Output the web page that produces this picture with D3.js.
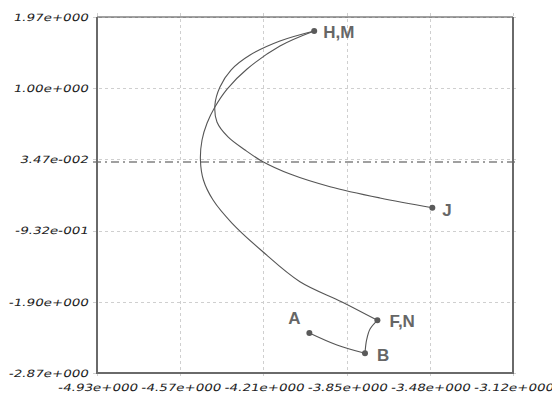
<!DOCTYPE html>
<html><head><meta charset="utf-8">
<script src="https://cdn.jsdelivr.net/npm/d3@7"></script>
<style>
html,body{margin:0;padding:0;background:#fff;}
svg{display:block;}
</style></head>
<body>
<svg id="chart" width="552" height="397"></svg>
<script>
// ---- data ----
const xDomain = [-4.932, -3.122];
const yDomain = [-2.8654, 1.968];
const xTickValues = [-4.932, -4.570, -4.208, -3.846, -3.484, -3.122];
const xTickLabels = ["-4.93e+000", "-4.57e+000", "-4.21e+000", "-3.85e+000", "-3.48e+000", "-3.12e+000"];
const yTickValues = [1.968, 1.0013, 0.0347, -0.932, -1.8987, -2.8654];
const yTickLabels = ["1.97e+000", "1.00e+000", "3.47e-002", "-9.32e-001", "-1.90e+000", "-2.87e+000"];

// path segments (x, y)
const segAB = [[-4.008, -2.322], [-3.888, -2.485], [-3.766, -2.598]];
const segBF = [[-3.766, -2.598], [-3.759, -2.417], [-3.744, -2.268], [-3.712, -2.150]];
const segFH = [[-3.712, -2.150], [-3.866, -1.900], [-4.049, -1.626], [-4.214, -1.209], [-4.345, -0.829],
  [-4.427, -0.517], [-4.469, -0.245], [-4.482, 0.027], [-4.475, 0.298], [-4.453, 0.529],
  [-4.419, 0.746], [-4.366, 0.990], [-4.279, 1.262], [-4.136, 1.574], [-3.987, 1.778]];
const segHJ = [[-3.987, 1.778], [-4.136, 1.642], [-4.266, 1.452], [-4.349, 1.248], [-4.397, 1.018],
  [-4.419, 0.773], [-4.410, 0.542], [-4.362, 0.339], [-4.288, 0.162], [-4.210, 0.003], [-4.092, -0.164],
  [-3.918, -0.336], [-3.701, -0.489], [-3.473, -0.621]];

const pointNames = ["A", "B", "F,N", "H,M", "J"];
const pointX = [-4.008, -3.766, -3.712, -3.987, -3.473];
const pointY = [-2.322, -2.598, -2.150, 1.778, -0.621];

// ---- layout ----
const L = 97, R = 513, T = 17, B = 373;
const svg = d3.select("#chart");
const x = d3.scaleLinear().domain(xDomain).range([L, R]);
const y = d3.scaleLinear().domain(yDomain).range([B, T]);

// grid
const grid = svg.append("g");
grid.selectAll("line.vx").data(xTickValues).join("line")
  .attr("x1", d => Math.round(x(d)) + 0.5).attr("x2", d => Math.round(x(d)) + 0.5)
  .attr("y1", T - 4).attr("y2", B + 4)
  .attr("stroke", "#cfcfcf").attr("stroke-width", 1).attr("stroke-dasharray", "3,3");
grid.selectAll("line.hy").data(yTickValues).join("line")
  .attr("y1", d => Math.round(y(d)) + 0.5).attr("y2", d => Math.round(y(d)) + 0.5)
  .attr("x1", L - 4).attr("x2", R + 4)
  .attr("stroke", "#cfcfcf").attr("stroke-width", 1).attr("stroke-dasharray", "3,3");

// zero line (dash-dot)
svg.append("line")
  .attr("x1", L - 4).attr("x2", R + 4)
  .attr("y1", y(0)).attr("y2", y(0))
  .attr("stroke", "#a0a0a0").attr("stroke-width", 2)
  .attr("stroke-dasharray", "8,4,2,4");

// frame
svg.append("line").attr("x1", L).attr("x2", R).attr("y1", T).attr("y2", T)
  .attr("stroke", "#444").attr("stroke-width", 1.2);
svg.append("line").attr("x1", L).attr("x2", L).attr("y1", T).attr("y2", B)
  .attr("stroke", "#6a6a6a").attr("stroke-width", 2);
svg.append("line").attr("x1", R).attr("x2", R).attr("y1", T).attr("y2", B)
  .attr("stroke", "#6a6a6a").attr("stroke-width", 2);
svg.append("line").attr("x1", L - 1).attr("x2", R + 1).attr("y1", B).attr("y2", B)
  .attr("stroke", "#6a6a6a").attr("stroke-width", 2);

// axes (labels only)
const xAxis = d3.axisBottom(x).tickValues(xTickValues).tickFormat((d, i) => xTickLabels[i]).tickSize(0).tickPadding(11);
const yAxis = d3.axisLeft(y).tickValues(yTickValues).tickFormat((d, i) => yTickLabels[i]).tickSize(0).tickPadding(9);
const gx = svg.append("g").attr("transform", `translate(0,${B})`).call(xAxis);
const gy = svg.append("g").attr("transform", `translate(${L},0)`).call(yAxis);
[gx, gy].forEach(g => {
  g.select(".domain").remove();
  g.selectAll("text")
    .attr("font-family", "'DejaVu Sans', Verdana, sans-serif")
    .style("font-style", "normal")
    .attr("font-size", 10)
    .attr("fill", "#222");
});
svg.selectAll(".tick text").each(function () {
  const w = this.getComputedTextLength();
  d3.select(this).attr("textLength", w * 1.34).attr("lengthAdjust", "spacingAndGlyphs");
});
// slant (oblique) around the baseline
gx.selectAll("text").attr("transform", "translate(0,18) skewX(-13) translate(0,-18)");
gy.selectAll("text").attr("transform", "translate(0,3) skewX(-13) translate(0,-3)");

// curves
const line = d3.line().x(d => x(d[0])).y(d => y(d[1])).curve(d3.curveCatmullRom.alpha(0.5));
[segAB, segBF, segFH, segHJ].forEach(seg => {
  svg.append("path").attr("d", line(seg))
    .attr("fill", "none").attr("stroke", "#555").attr("stroke-width", 1.1);
});

// points
svg.selectAll("circle.pt").data(pointNames).join("circle")
  .attr("cx", (d, i) => x(pointX[i])).attr("cy", (d, i) => y(pointY[i]))
  .attr("r", 3).attr("fill", "#5a5a5a");

// labels
const labelOffset = { "A": [-21, -9], "B": [12, 7.5], "F,N": [12, 7], "H,M": [9, 7.5], "J": [10, 8.5] };
svg.selectAll("text.lbl").data(pointNames).join("text")
  .attr("x", (d, i) => x(pointX[i]) + labelOffset[d][0])
  .attr("y", (d, i) => y(pointY[i]) + labelOffset[d][1])
  .attr("font-family", "'Liberation Sans', Arial, sans-serif")
  .attr("font-weight", "bold").attr("font-size", 17)
  .attr("fill", "#666")
  .text(d => d);
</script>
</body></html>
